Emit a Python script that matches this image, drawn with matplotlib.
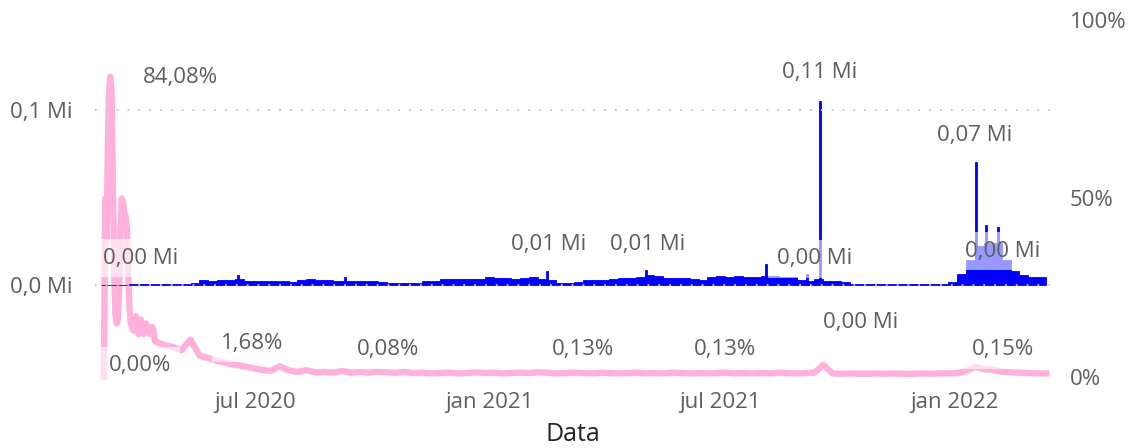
# Casos diários (barras) e percentual (linha) por data
import matplotlib.pyplot as plt
import numpy as np
import pandas as pd

plt.rcParams['font.family'] = ['Open Sans', 'DejaVu Sans']

# casos por semana (milhares), semanas a partir de 02/03/2020
cases_week_start = '2020-03-02'
cases_weekly = [0.2, 0.2, 0.2, 0.3, 0.3, 0.3, 0.3, 0.4, 0.4, 0.5,
                1.0, 2.8, 2.5, 2.6, 2.6, 3.5, 2.3, 2.3, 2.3, 2.5,
                2.5, 1.5, 2.8, 3.2, 3.0, 2.8, 2.2, 2.5, 2.0, 2.0,
                2.0, 1.8, 1.1, 1.0, 1.2, 1.1, 2.2, 2.3, 3.2, 3.4,
                3.4, 3.5, 3.6, 4.6, 3.8, 3.8, 3.6, 3.8, 4.5, 3.5,
                3.0, 1.3, 1.2, 1.5, 2.6, 2.9, 3.0, 3.6, 3.8, 3.8,
                4.5, 5.7, 5.0, 4.2, 4.2, 4.0, 3.5, 3.0, 4.5, 5.0,
                4.8, 5.0, 4.6, 4.8, 5.0, 5.0, 4.8, 4.6, 3.0, 2.2,
                3.5, 2.5, 2.2, 1.5, 0.7, 0.6, 0.6, 0.5, 0.4, 0.3,
                0.3, 0.3, 0.3, 0.3, 0.4, 1.5, 6.0, 14, 22, 24,
                24, 14, 8, 5.5, 4.8, 4.8]

# dias com picos isolados (milhares)
spike_dates = ['2020-06-17', '2020-09-09', '2021-02-15', '2021-05-04', '2021-08-06',
               '2021-09-07', '2021-09-17', '2022-01-18', '2022-01-26', '2022-02-04']
spike_vals = [5.7, 4.8, 8.0, 8.6, 12, 6.3, 105, 70, 34, 33]

# percentual diário no início da série (a partir de 04/03/2020)
pct_daily_start = '2020-03-04'
pct_daily = [0, 50, 38, 62, 80, 84.08, 80, 55, 30, 18,
             15, 16, 25, 40, 50, 49, 46, 45, 42, 30,
             20, 15, 14, 13, 15, 17, 14, 12, 15, 16,
             13, 12, 14, 15, 13, 14, 12, 13, 14, 13]

# percentual semanal a partir de 13/04/2020
pct_week_start = '2020-04-13'
pct_weekly = [10, 9, 8.4, 7.5, 10.5, 6, 5.3, 4.5, 3.9, 3.4,
              3.0, 2.5, 2.0, 1.7, 3.0, 1.9, 1.4, 1.9, 1.3, 1.4,
              1.2, 1.7, 1.2,
              1.4, 1.2, 1.5, 1.3, 1.2, 1.4, 1.1, 1.2, 1.0, 1.1, 1.2, 1.0, 1.1, 1.3, 1.1, 1.2, 1.0, 1.1,
              1.2, 1.1, 1.3, 1.2, 1.0, 1.1, 1.2, 1.1, 1.0, 1.2, 1.1, 1.0, 1.1, 1.2, 1.0, 1.1, 1.0, 1.2, 1.1, 1.0,
              1.1, 1.0, 1.1, 1.2, 1.0, 1.1, 1.0, 1.1, 1.0, 1.2, 1.1, 1.0, 1.1, 1.2,
              3.4,
              1.0, 0.9, 1.0, 0.9, 0.9, 1.0, 0.9, 1.0, 0.9, 0.9, 1.0, 0.9, 1.0, 1.0, 1.1,
              1.6, 2.8, 2.2, 2.0, 1.5, 1.3, 1.2, 1.1, 1.0, 1.0]

tick_dates = ['2020-07-01', '2021-01-01', '2021-07-01', '2022-01-01']
tick_labels = ['jul 2020', 'jan 2021', 'jul 2021', 'jan 2022']

# rótulos de dados: (data, valor, texto)
cases_labels = [('2020-04-02', 0.0154, '0,00 Mi'), ('2021-02-16', 0.0234, '0,01 Mi'),
                ('2021-05-05', 0.0234, '0,01 Mi'), ('2021-09-17', 0.1217, '0,11 Mi'),
                ('2021-09-13', 0.0149, '0,00 Mi'), ('2021-10-19', -0.0217, '0,00 Mi'),
                ('2022-01-17', 0.0857, '0,07 Mi'), ('2022-02-08', 0.0194, '0,00 Mi')]
pct_labels = [('2020-05-03', 83.8, '84,08%'), ('2020-04-01', 3.1, '0,00%'),
              ('2020-06-28', 9.5, '1,68%'), ('2020-10-13', 7.8, '0,08%'),
              ('2021-03-15', 7.8, '0,13%'), ('2021-07-05', 7.8, '0,13%'),
              ('2022-02-08', 7.8, '0,15%')]

blue = '#0000FF'
pink = '#FFB1DC'
gray = '#605E5C'

week_dates = pd.date_range(cases_week_start, periods=len(cases_weekly), freq='7D')
pct_dates = list(pd.date_range(pct_daily_start, periods=len(pct_daily), freq='D')) + \
    list(pd.date_range(pct_week_start, periods=len(pct_weekly), freq='7D'))
pct_vals = pct_daily + pct_weekly

fig = plt.figure(figsize=(11.3, 4.48), dpi=100)
ax = fig.add_axes([0.0841, 0.1585, 0.8451, 0.7969])
ax2 = ax.twinx()
ax.set_zorder(ax2.get_zorder() + 1)
ax.patch.set_visible(False)

ax.bar(week_dates, np.array(cases_weekly) / 1000, width=7, align='edge',
       color=blue, edgecolor=blue, linewidth=0.6)
ax.bar(pd.to_datetime(spike_dates), np.array(spike_vals) / 1000, width=1.6,
       color=blue, edgecolor=blue, linewidth=0.6)

ax2.plot(pct_dates, pct_vals, color=pink, lw=4.6, solid_joinstyle='round', clip_on=False)

ax.set_xlim(pd.Timestamp('2020-02-26'), pd.Timestamp('2022-03-17'))
ax.set_ylim(-0.05257, 0.15143)
ax2.set_ylim(0, 100)

ax.set_yticks([0, 0.1])
ax.set_yticklabels(['0,0 Mi', '0,1 Mi'])
ax2.set_yticks([0, 50, 100])
ax2.set_yticklabels(['0%', '50%', '100%'])
ax.set_xticks(pd.to_datetime(tick_dates))
ax.set_xticklabels(tick_labels)

ax.grid(axis='y', color='#C8C6C4', ls=(0, (1, 5)), lw=1.3)
for a in (ax, ax2):
    for s in a.spines.values():
        s.set_visible(False)
    a.tick_params(length=0, labelsize=16, labelcolor=gray)
ax.tick_params(axis='y', pad=16)
ax.tick_params(axis='x', pad=11)
ax2.tick_params(axis='y', pad=14)

ax.set_xlabel('Data', fontsize=18, color='#252423', labelpad=6)

box = dict(boxstyle='square,pad=0.4', fc='white', ec='none', alpha=0.6)
for d, v, t in cases_labels:
    ax.text(pd.Timestamp(d), v, t, ha='center', va='center', fontsize=16,
            color=gray, bbox=box, zorder=5)
for d, v, t in pct_labels:
    ax.text(pd.Timestamp(d), v, t, ha='center', va='center', fontsize=16,
            color=gray, bbox=box, zorder=5, transform=ax2.transData)

plt.savefig('out.png', dpi=100)
plt.close(fig)
